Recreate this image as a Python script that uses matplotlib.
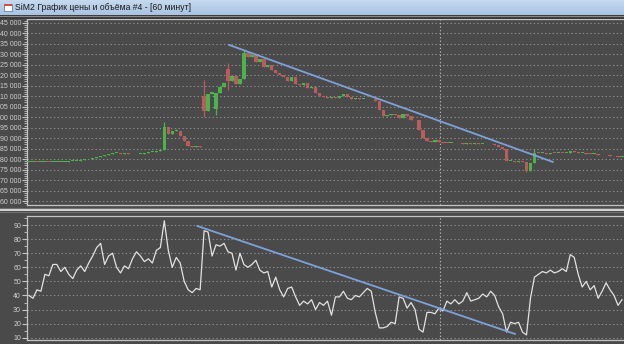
import numpy as np
import matplotlib
matplotlib.use("Agg")
import matplotlib.pyplot as plt
from matplotlib.ticker import FuncFormatter, MultipleLocator

# ===============================
# DATA
# ===============================
TITLE = "SiM2 График цены и объёма #4 - [60 минут]"

# closes, thousands of points, one per 60-min bar
close_k = [
    78.6, 78.7, 78.6, 78.6, 78.7, 78.6, 78.7, 78.7, 78.8, 78.9,
    79.0, 79.1, 79.3, 79.6, 79.9, 80.2, 80.5, 80.9, 81.3, 81.8,
    82.3, 82.8, 83.1, 82.6, 82.9, 82.5, 82.3, 82.4, 82.7, 83.0,
    83.3, 83.6, 84.0, 84.4, 95.5, 92.0, 93.3, 93.5, 91.0, 88.5,
    86.5, 86.0, 86.2, 86.0, 103.0, 111.0, 112.0, 111.5, 114.5, 116.5,
    117.0, 119.5, 116.0, 118.0, 130.5, 128.5, 129.5, 126.5, 127.5, 124.0,
    125.0, 122.5, 121.0, 120.0, 119.0, 117.0, 119.0, 116.0, 115.5, 116.5,
    114.0, 114.5, 111.5, 110.0, 109.5, 109.0, 109.8, 109.0, 110.0, 111.0,
    109.5, 108.8, 109.2, 108.6, 108.9, 108.5, 108.7, 107.8, 103.5, 100.8,
    101.2, 101.5, 101.0, 99.5, 101.5, 100.5, 98.8, 98.5, 94.0, 90.0,
    88.8, 88.2, 89.0, 88.0, 87.8, 87.6, 87.9, 87.5, 87.8, 87.4,
    87.6, 87.3, 87.5, 87.1, 87.3, 87.0, 87.2, 86.8, 85.8, 84.8,
    79.2, 79.3, 78.8, 79.0, 78.5, 74.5, 78.0, 83.0, 82.8, 83.0,
    82.7, 83.0, 82.8, 83.1, 82.9, 83.0, 84.0, 83.3, 82.8, 83.0,
    82.6, 82.5, 82.7, 82.0, 81.8, 82.0, 81.3, 81.5, 81.0, 81.2,
]
first_open_k = 78.6
# bars that opened on a gap (index -> open)
gap_open_k = {34: 84.4, 44: 110.0, 47: 104.0, 50: 123.0, 54: 118.0, 127: 78.0}
# long wicks (index -> extreme)
high_k = {34: 97.5, 37: 94.5, 44: 117.7, 50: 126.0, 54: 132.0, 127: 85.0}
low_k = {44: 100.1, 47: 101.0, 50: 113.0, 125: 74.0}

# oscillator in the lower pane
osc = [
    40, 38, 44, 43, 55, 54, 62, 62, 57, 60,
    55, 52, 58, 61, 57, 63, 68, 74, 77, 62,
    68, 70, 60, 56, 61, 59, 66, 71, 68, 64,
    66, 63, 72, 74, 93, 72, 60, 67, 63, 50,
    44, 42, 45, 44, 86, 85, 68, 76, 75, 77,
    71, 70, 58, 70, 62, 60, 62, 65, 58, 56,
    57, 46, 53, 44, 39, 45, 46, 39, 33, 36,
    34, 37, 30, 35, 33, 36, 26, 39, 39, 43,
    38, 37, 40, 39, 42, 45, 43, 28, 17, 17,
    18, 21, 20, 39, 38, 31, 35, 30, 16, 14,
    28, 28, 27, 31, 29, 36, 34, 37, 34, 36,
    42, 36, 37, 38, 41, 39, 43, 40, 32, 27,
    14, 21, 20, 21, 14, 12, 38, 53, 55, 57,
    56, 58, 56, 57, 59, 57, 69, 67, 55, 46,
    50, 44, 47, 38, 43, 49, 44, 40, 33, 37,
]

# hand-drawn trend lines: (bar, value) endpoints
price_trend_bar = [50.3, 131.6]
price_trend_k = [134.4, 78.7]
osc_trend_bar = [42.3, 122.1]
osc_trend_val = [89.3, 12.7]

CURSOR_BAR = 103.2

# ===============================
# STYLE
# ===============================
BG = "#4a4a4a"
TXT = "#cfcfcf"
SPINE = "#c4c4c4"
GRID = "#8e8e8e"
UP = "#4cb24c"
DOWN = "#b85c5c"
TREND = "#7ea2d8"
FONT = "Liberation Sans"

W, H = 624, 344
LEFT = 27


def fx(px):
    return px / W


def fy(py):
    return 1 - py / H


def style_axis(ax, ymin, ymax, major, minor, fmt):
    ax.set_facecolor(BG)
    ax.set_ylim(ymin, ymax)
    ax.set_xlim(-0.5, len(close_k) - 0.5)
    ax.yaxis.set_major_locator(MultipleLocator(major))
    ax.yaxis.set_minor_locator(MultipleLocator(minor))
    ax.yaxis.set_major_formatter(FuncFormatter(fmt))
    ax.tick_params(axis="y", which="major", length=3.5, width=0.8, color=SPINE,
                   labelsize=5.0, labelcolor=TXT, pad=0.8)
    ax.tick_params(axis="y", which="minor", length=2, width=0.6, color=SPINE)
    ax.set_xticks([])
    ax.spines["right"].set_visible(False)
    for side in ("left", "top", "bottom"):
        ax.spines[side].set_color(SPINE)
        ax.spines[side].set_linewidth(0.9)
    ax.grid(True, axis="y", color=GRID, linestyle=(0, (1.2, 2.2)), linewidth=0.8)
    ax.axvline(CURSOR_BAR, color="#b8b8b8", linestyle=(0, (1.2, 2.0)), linewidth=0.8)


def price_label(v, pos):
    s = f"{int(round(v)) % 100000:05d}"
    return s[:2] + " " + s[2:]


# ===============================
# FIGURE
# ===============================
plt.rcParams["font.family"] = [FONT, "DejaVu Sans"]
fig = plt.figure(figsize=(W / 100, H / 100), dpi=100, facecolor=BG)

# window title bar
bar_ax = fig.add_axes([0, fy(15), 1, 15 / H])
bar_ax.set_axis_off()
grad = np.linspace(0, 1, 20).reshape(-1, 1)
bar_ax.imshow(grad, aspect="auto", cmap=matplotlib.colors.LinearSegmentedColormap.from_list(
    "tb", ["#c6d9ee", "#a9c3e2"]), extent=[0, 1, 0, 1])
bar_ax.set_xlim(0, 1)
bar_ax.set_ylim(0, 1)
bar_ax.add_patch(plt.Rectangle((fx(4), 0.25), fx(8), 0.5, facecolor="white",
                               edgecolor="#6a7fa0", linewidth=0.6))
bar_ax.add_patch(plt.Rectangle((fx(4), 0.6), fx(8), 0.15, facecolor="#d05050", linewidth=0))
bar_ax.text(fx(15), 0.48, TITLE, fontsize=6.2, color="#1a1a1a", va="center", ha="left")

# dark strip under the title bar and between panes
fig.patches.append(plt.Rectangle((0, fy(19)), 1, 4 / H, transform=fig.transFigure,
                                 facecolor="#3a3a3a", edgecolor="none"))
fig.lines.append(plt.Line2D([0, 1], [fy(16), fy(16)], transform=fig.transFigure,
                            color="#8a8a8a", linewidth=0.8))
fig.lines.append(plt.Line2D([0, 1], [fy(210), fy(210)], transform=fig.transFigure,
                            color="#f0f0f0", linewidth=1.2))
fig.lines.append(plt.Line2D([0, 1], [fy(208), fy(208)], transform=fig.transFigure,
                            color="#707070", linewidth=0.8))
fig.lines.append(plt.Line2D([0, 1], [fy(212), fy(212)], transform=fig.transFigure,
                            color="#707070", linewidth=0.8))

# ---- price pane
ax1 = fig.add_axes([fx(LEFT), fy(205), 1 - fx(LEFT), (205 - 19) / H])
style_axis(ax1, 58190, 146760, 5000, 1000, price_label)

close = np.array(close_k) * 1000
opens = np.r_[first_open_k * 1000, close[:-1]]
for i, v in gap_open_k.items():
    opens[i] = v * 1000
highs = np.maximum(opens, close)
lows = np.minimum(opens, close)
for i, v in high_k.items():
    highs[i] = v * 1000
for i, v in low_k.items():
    lows[i] = v * 1000

idx = np.arange(len(close))
colors = [UP if c >= o else DOWN for o, c in zip(opens, close)]
ax1.vlines(idx, lows, highs, colors=colors, linewidth=0.9, zorder=3)
body_lo = np.minimum(opens, close)
body_h = np.maximum(np.abs(close - opens), 400)
ax1.bar(idx, body_h, bottom=body_lo, width=0.85, color=colors, linewidth=0, zorder=3)
ax1.plot(price_trend_bar, np.array(price_trend_k) * 1000, color=TREND,
         linewidth=1.3, zorder=4)

# ---- oscillator pane
ax2 = fig.add_axes([fx(LEFT), fy(340), 1 - fx(LEFT), (340 - 216) / H])
style_axis(ax2, 8.4, 96.4, 10, 5, lambda v, p: f"{int(round(v))}")
ax2.plot(idx, osc, color="#e2e2e2", linewidth=0.9, zorder=3)
ax2.plot(osc_trend_bar, osc_trend_val, color=TREND, linewidth=1.3, zorder=4)

fig.savefig("out.png", dpi=100, facecolor=BG)
